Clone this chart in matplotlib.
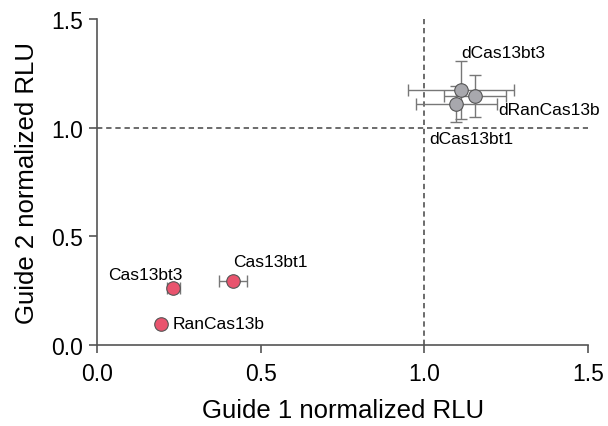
import matplotlib
matplotlib.use("Agg")
import matplotlib.pyplot as plt

plt.rcParams['font.family'] = ['Liberation Sans', 'DejaVu Sans']

# active nucleases (red)
act_names = ["Cas13bt3", "Cas13bt1", "RanCas13b"]
act_x = [0.232, 0.416, 0.195]
act_y = [0.262, 0.295, 0.097]
act_xerr = [0.02, 0.043, 0.0]

# dead nucleases (gray)
dead_names = ["dCas13bt3", "dCas13bt1", "dRanCas13b"]
dead_x = [1.112, 1.097, 1.155]
dead_y = [1.173, 1.109, 1.146]
dead_xerr = [0.162, 0.124, 0.096]
dead_yerr = [0.134, 0.083, 0.097]

ticks = [0.0, 0.5, 1.0, 1.5]

fig = plt.figure(figsize=(6.08, 4.27), dpi=100)
ax = fig.add_axes([0.16, 0.19, 0.807, 0.763])

ax.axvline(1.0, color="#444444", ls=(0, (3.5, 2.5)), lw=1.1, zorder=1)
ax.axhline(1.0, color="#444444", ls=(0, (3.5, 2.5)), lw=1.1, zorder=1)

ax.errorbar(dead_x, dead_y, xerr=dead_xerr, yerr=dead_yerr, fmt="none",
            ecolor="#777777", elinewidth=1, capsize=4, capthick=1, zorder=2)
ax.scatter(dead_x, dead_y, s=95, color="#a8a8ad", edgecolor="#555555",
           linewidth=0.8, zorder=3)

ax.errorbar(act_x, act_y, xerr=act_xerr, fmt="none",
            ecolor="#777777", elinewidth=1, capsize=4, capthick=1, zorder=2)
ax.scatter(act_x, act_y, s=95, color="#e9546e", edgecolor="#555555",
           linewidth=0.8, zorder=3)

fs = 12.5
ax.annotate(dead_names[0], (dead_x[0], dead_y[0]), xytext=(0, 27),
            textcoords="offset points", fontsize=fs, ha="left", va="center")
ax.annotate(dead_names[1], (dead_x[1], dead_y[1]), xytext=(-19, -25),
            textcoords="offset points", fontsize=fs, ha="left", va="center")
ax.annotate(dead_names[2], (dead_x[2], dead_y[2]), xytext=(17, -10),
            textcoords="offset points", fontsize=fs, ha="left", va="center")
ax.annotate(act_names[0], (act_x[0], act_y[0]), xytext=(7, 10),
            textcoords="offset points", fontsize=fs, ha="right", va="center")
ax.annotate(act_names[1], (act_x[1], act_y[1]), xytext=(0, 14),
            textcoords="offset points", fontsize=fs, ha="left", va="center")
ax.annotate(act_names[2], (act_x[2], act_y[2]), xytext=(8, 0),
            textcoords="offset points", fontsize=fs, ha="left", va="center")

ax.set_xlim(0, 1.5)
ax.set_ylim(0, 1.5)
ax.set_xticks(ticks)
ax.set_yticks(ticks)
ax.set_xticklabels([f"{t:.1f}" for t in ticks])
ax.set_yticklabels([f"{t:.1f}" for t in ticks])
ax.tick_params(labelsize=16.5, color="#555555", length=6, width=1.2)
ax.tick_params(axis="x", pad=6)
ax.tick_params(axis="y", pad=4)
for s in ["top", "right"]:
    ax.spines[s].set_visible(False)
for s in ["left", "bottom"]:
    ax.spines[s].set_color("#555555")
    ax.spines[s].set_linewidth(1.2)

ax.set_xlabel("Guide 1 normalized RLU", fontsize=18.5, labelpad=10)
ax.set_ylabel("Guide 2 normalized RLU", fontsize=18.5, labelpad=9)

fig.savefig("out.png", dpi=100)
